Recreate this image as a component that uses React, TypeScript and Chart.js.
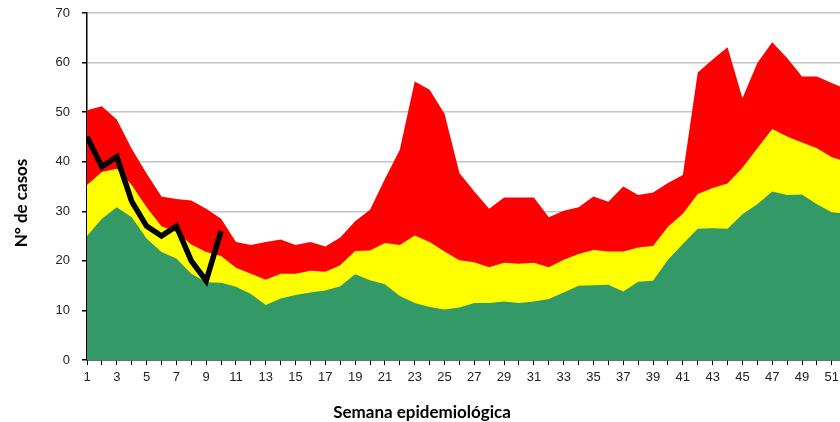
import React, { useEffect, useRef } from 'react';
import { Chart, registerables } from 'chart.js';

Chart.register(...registerables);

// Semanas epidemiológicas
const weeks = [
  1, 2, 3, 4, 5, 6, 7, 8, 9, 10, 11, 12, 13, 14, 15, 16, 17, 18, 19, 20, 21, 22, 23, 24, 25, 26,
  27, 28, 29, 30, 31, 32, 33, 34, 35, 36, 37, 38, 39, 40, 41, 42, 43, 44, 45, 46, 47, 48, 49, 50, 51, 52,
];

// Zona de éxito (límite inferior)
const successZone = [
  25.0, 28.5, 30.8, 28.8, 24.5, 21.8, 20.5, 17.4, 15.7, 15.6, 14.8, 13.3, 11.1, 12.4, 13.1, 13.6, 14.0, 14.9,
  17.3, 16.1, 15.3, 12.9, 11.5, 10.7, 10.2, 10.6, 11.5, 11.5, 11.8, 11.5, 11.8, 12.3, 13.6, 15.0, 15.1, 15.2,
  13.8, 15.8, 16.0, 20.2, 23.4, 26.5, 26.6, 26.5, 29.4, 31.4, 34.0, 33.3, 33.4, 31.4, 29.8, 29.5,
];

// Zona de seguridad (mediana)
const securityZone = [
  35.3, 37.9, 38.6, 35.3, 30.8, 27.0, 25.8, 23.3, 21.8, 21.0, 18.6, 17.4, 16.2, 17.4, 17.4, 18.0, 17.8, 19.1,
  22.0, 22.1, 23.6, 23.2, 25.1, 23.8, 21.9, 20.1, 19.7, 18.7, 19.6, 19.4, 19.6, 18.7, 20.2, 21.4, 22.2, 21.9,
  21.9, 22.7, 23.0, 26.9, 29.5, 33.5, 34.7, 35.6, 38.8, 42.7, 46.6, 45.1, 43.9, 42.7, 40.9, 40.0,
];

// Zona de alarma (límite superior)
const alarmZone = [
  50.4, 51.2, 48.5, 42.6, 37.6, 33.0, 32.5, 32.2, 30.5, 28.5, 23.8, 23.2, 23.8, 24.3, 23.2, 23.8, 22.9, 24.7,
  28.0, 30.3, 36.5, 42.4, 56.2, 54.5, 49.7, 37.7, 34.0, 30.5, 32.8, 32.8, 32.8, 28.8, 30.1, 30.8, 33.0, 31.9,
  35.0, 33.3, 33.8, 35.7, 37.3, 58.0, 60.6, 63.1, 52.8, 59.9, 64.1, 60.9, 57.2, 57.2, 55.9, 54.6,
];

// Casos del año actual
const currentCases = [45, 39, 41, 32, 27, 25, 27, 20, 16, 26];

const yTicks = [0, 10, 20, 30, 40, 50, 60, 70];

const X_TITLE = 'Semana epidemiológica';
const Y_TITLE = 'N° de casos';

const tickFont = { family: '"Liberation Sans", Arial, sans-serif', size: 13 };
const tickColor = '#222';

export default function App() {
  const ref = useRef<HTMLCanvasElement>(null);

  useEffect(() => {
    const canvas = ref.current;
    if (!canvas) return;
    const pts = (vals: number[]) => vals.map((v, i) => ({ x: weeks[i], y: v }));

    const titlePlugin = {
      id: 'axisTitles',
      afterDraw(chart: any) {
        const { ctx, chartArea } = chart;
        ctx.save();
        ctx.fillStyle = '#000';
        ctx.font = 'bold 17px Lato, "Open Sans", sans-serif';
        ctx.textAlign = 'center';
        ctx.textBaseline = 'middle';
        ctx.fillText(X_TITLE, chartArea.left + 335, 413);
        ctx.translate(22, chartArea.top + 190);
        ctx.rotate(-Math.PI / 2);
        ctx.fillText(Y_TITLE, 0, 0);
        ctx.restore();
      },
    };

    const chart = new Chart(canvas, {
      type: 'line',
      data: {
        datasets: [
          {
            label: 'Casos',
            data: pts(currentCases),
            borderColor: '#000000',
            borderWidth: 5.5,
            fill: false,
            pointRadius: 0,
            tension: 0,
            order: 0,
          },
          {
            label: 'Éxito',
            data: pts(successZone),
            backgroundColor: '#339966',
            borderWidth: 0,
            fill: 'origin',
            pointRadius: 0,
            tension: 0,
            order: 1,
          },
          {
            label: 'Seguridad',
            data: pts(securityZone),
            backgroundColor: '#FFFF00',
            borderWidth: 0,
            fill: 'origin',
            pointRadius: 0,
            tension: 0,
            order: 2,
          },
          {
            label: 'Alarma',
            data: pts(alarmZone),
            backgroundColor: '#FF0000',
            borderWidth: 0,
            fill: 'origin',
            pointRadius: 0,
            tension: 0,
            order: 3,
          },
        ],
      },
      options: {
        animation: false,
        responsive: false,
        layout: { padding: { top: 13, left: 0, right: 0, bottom: 0 } },
        plugins: {
          legend: { display: false },
          tooltip: { enabled: false },
        },
        scales: {
          x: {
            type: 'linear',
            min: 1,
            max: 51.55,
            afterBuildTicks: (s: any) => {
              s.ticks = weeks.filter((w) => w <= 51.55).map((w) => ({ value: w }));
            },
            afterFit: (s: any) => {
              s.height = 62;
              s.paddingLeft = 0;
              s.paddingRight = 0;
            },
            ticks: {
              autoSkip: false,
              maxRotation: 0,
              minRotation: 0,
              padding: 5,
              font: tickFont,
              color: tickColor,
              callback: (v: any) => (Number(v) % 2 === 1 ? String(v) : ''),
            },
            grid: {
              drawOnChartArea: false,
              drawTicks: true,
              tickLength: 5,
              tickColor: '#000',
            },
            border: { color: '#000', width: 1.5 },
          },
          y: {
            min: 0,
            max: 70,
            afterBuildTicks: (s: any) => {
              s.ticks = yTicks.map((v) => ({ value: v }));
            },
            afterFit: (s: any) => {
              s.width = 87;
              s.paddingTop = 0;
              s.paddingBottom = 0;
            },
            ticks: {
              padding: 12,
              font: tickFont,
              color: tickColor,
            },
            grid: {
              color: '#c4c4c4',
              lineWidth: 1.5,
              tickLength: 5,
              tickColor: '#000',
            },
            border: { color: '#000', width: 1.5 },
          },
        },
      },
      plugins: [titlePlugin],
    });

    return () => chart.destroy();
  }, []);

  return (
    <div style={{ position: 'absolute', left: 0, top: 0, width: 840, height: 422, background: '#fff' }}>
      <canvas ref={ref} width={840} height={422} style={{ display: 'block' }} />
    </div>
  );
}
